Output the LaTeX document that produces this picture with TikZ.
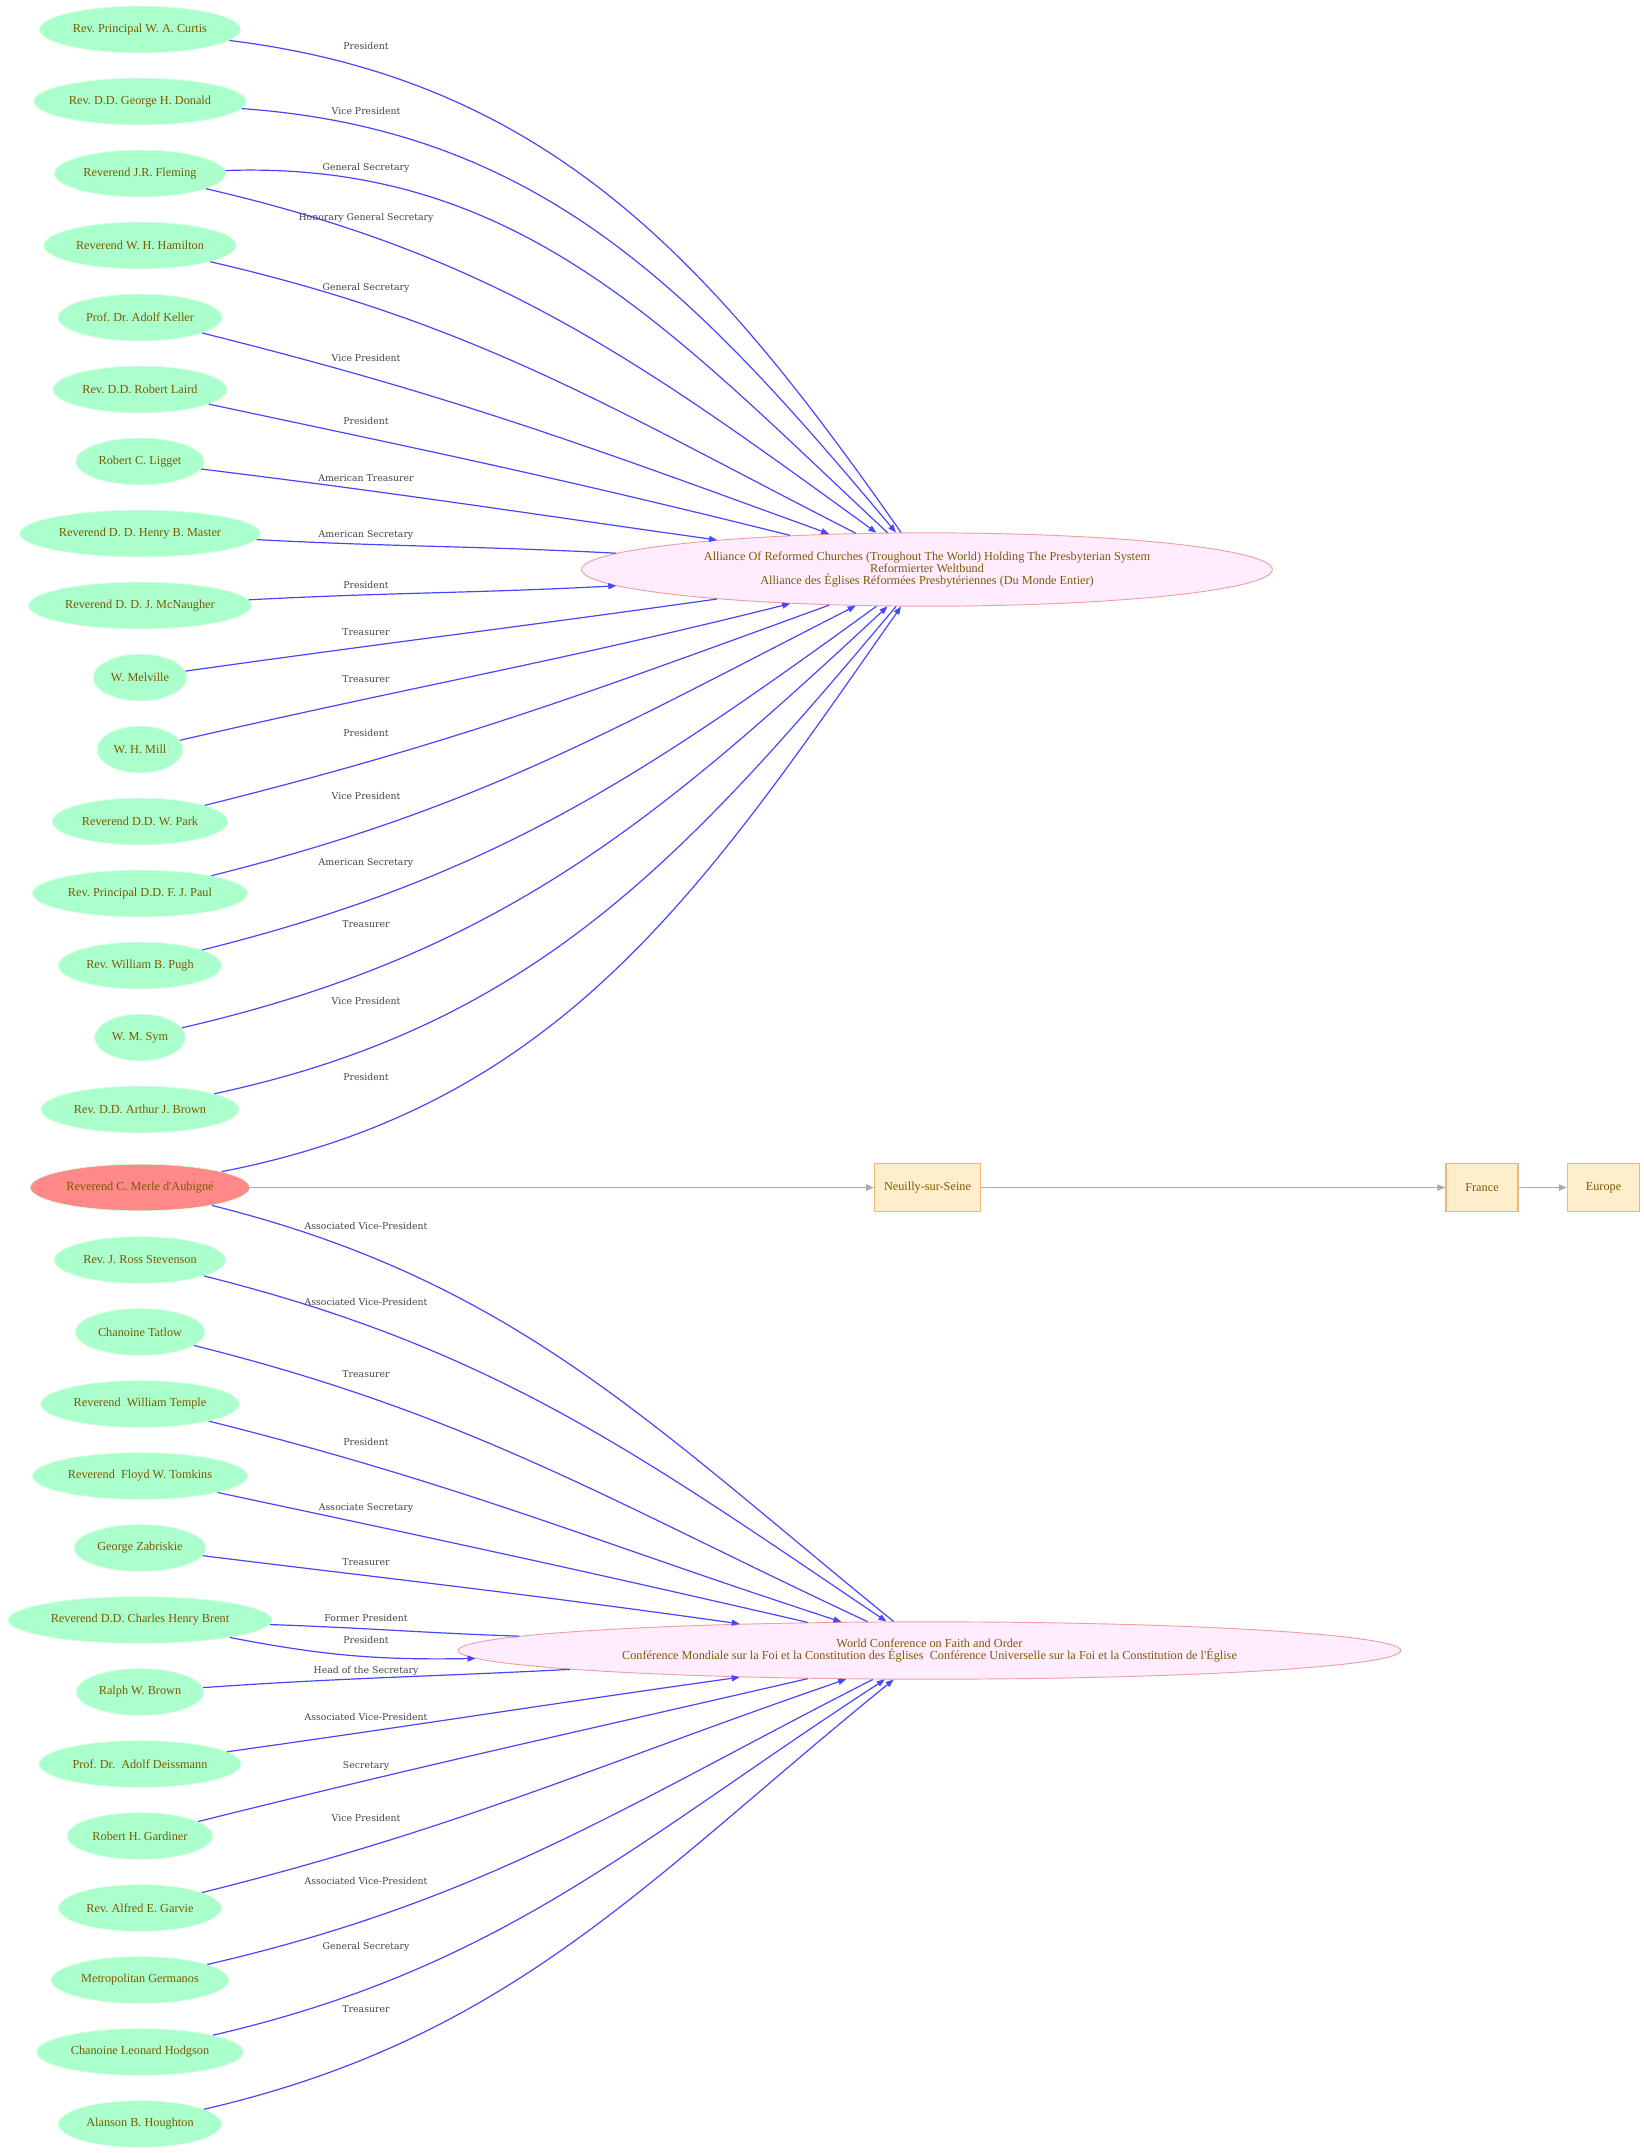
\documentclass[tikz,border=0pt]{standalone}
\usepackage{fontspec}
\setmainfont{Liberation Serif}
\newfontfamily\rolefont{DejaVu Serif}
\usetikzlibrary{positioning}
\usetikzlibrary{shapes.geometric}
\usetikzlibrary{arrows.meta}
\frenchspacing
\definecolor{personfill}{RGB}{170,255,204}
\definecolor{personrim}{RGB}{214,255,222}
\definecolor{founderfill}{RGB}{255,136,136}
\definecolor{nametext}{RGB}{124,90,0}
\definecolor{orgfill}{RGB}{255,236,255}
\definecolor{orgrim}{RGB}{238,160,160}
\definecolor{boxfill}{RGB}{255,238,204}
\definecolor{boxrim}{RGB}{232,186,120}
\definecolor{roleblue}{RGB}{70,70,255}
\definecolor{placegray}{RGB}{170,170,170}
\definecolor{rolegray}{RGB}{68,68,68}
\tikzset{
    person/.style = {ellipse,fill=personfill,draw=personrim,line width=0.6pt,text=nametext,
        inner xsep=3pt,minimum height=35pt,font=\fontsize{9.2}{11}\selectfont},
    founder/.style = {person,fill=founderfill},
    org/.style = {ellipse,fill=orgfill,draw=orgrim,line width=0.7pt,text=nametext,inner sep=0pt,
        align=center,font=\fontsize{9.2}{9.3}\selectfont},
    placebox/.style = {rectangle,fill=boxfill,draw=boxrim,line width=0.8pt,text=nametext,
        minimum width=54pt,minimum height=36.5pt,inner xsep=7pt,font=\fontsize{9.2}{11}\selectfont},
    role/.style = {draw=roleblue,line width=0.9pt,-{Triangle[length=6pt,width=4.5pt]}},
    located/.style = {draw=placegray,line width=1.4pt,-{Triangle[length=6pt,width=4.5pt]}},
    rolelabel/.style = {text=rolegray,inner sep=0pt,text height=5pt,text depth=1.5pt,
        font=\rolefont\fontsize{7}{8}\selectfont}}
\begin{document}
\begin{tikzpicture}[x=0.75pt,y=0.75pt]
        \useasboundingbox (0,0) rectangle (1644,-2153);
        \path (140,-29.5) node[person] (curtis) {Rev. Principal W. A. Curtis}
        ++ (0,-72) node[person] (donald) {Rev. D.D. George H. Donald}
        ++ (0,-72) node[person] (fleming) {Reverend J.R. Fleming}
        ++ (0,-72) node[person] (hamilton) {Reverend W. H. Hamilton}
        ++ (0,-72) node[person] (keller) {Prof. Dr. Adolf Keller}
        ++ (0,-72) node[person] (laird) {Rev. D.D. Robert Laird}
        ++ (0,-72) node[person] (ligget) {Robert C. Ligget}
        ++ (0,-72) node[person] (master) {Reverend D. D. Henry B. Master}
        ++ (0,-72) node[person] (mcnaugher) {Reverend D. D. J. McNaugher}
        ++ (0,-72) node[person] (melville) {W. Melville}
        ++ (0,-72) node[person] (mill) {W. H. Mill}
        ++ (0,-72) node[person] (park) {Reverend D.D. W. Park}
        ++ (0,-72) node[person] (paul) {Rev. Principal D.D. F. J. Paul}
        ++ (0,-72) node[person] (pugh) {Rev. William B. Pugh}
        ++ (0,-72) node[person] (sym) {W. M. Sym}
        ++ (0,-72) node[person] (brownaj) {Rev. D.D. Arthur J. Brown}
        ++ (0,-78) node[founder] (aubigne) {Reverend C. Merle d\textquotesingle Aubigné}
        ++ (0,-72.5) node[person] (stevenson) {Rev. J. Ross Stevenson}
        ++ (0,-72) node[person] (tatlow) {Chanoine Tatlow}
        ++ (0,-72) node[person] (temple) {Reverend\ \ William Temple}
        ++ (0,-72) node[person] (tomkins) {Reverend\ \ Floyd W. Tomkins}
        ++ (0,-72) node[person] (zabriskie) {George Zabriskie}
        ++ (0,-72) node[person] (brent) {Reverend D.D. Charles Henry Brent}
        ++ (0,-72) node[person] (brownrw) {Ralph W. Brown}
        ++ (0,-72) node[person] (deissmann) {Prof. Dr.\ \ Adolf Deissmann}
        ++ (0,-72) node[person] (gardiner) {Robert H. Gardiner}
        ++ (0,-72) node[person] (garvie) {Rev. Alfred E. Garvie}
        ++ (0,-72) node[person] (germanos) {Metropolitan Germanos}
        ++ (0,-72) node[person] (hodgson) {Chanoine Leonard Hodgson}
        ++ (0,-72) node[person] (houghton) {Alanson B. Houghton};
        \path (927,-569.5) node[org,minimum width=518pt,minimum height=55pt] (alliance)
            {Alliance Of Reformed Churches (Troughout The World) Holding The Presbyterian System\\
             Reformierter Weltbund\\
             Alliance des Églises Réformées Presbytériennes (Du Monde Entier)};
        \path (929.5,-1650.5) node[org,minimum width=707pt,minimum height=43pt] (conference)
            {World Conference on Faith and Order\\
             Conférence Mondiale sur la Foi et la Constitution des Églises\ \ Conférence Universelle sur la Foi et la Constitution de l\textquotesingle Église};
        \path (927.5,-1187.5) node[placebox] (neuilly) {Neuilly-sur-Seine}
        (1482,-1187.5) node[placebox] (france) {France}
        (1603.5,-1187.5) node[placebox] (europe) {Europe};
        % into the alliance
        \draw[role] (curtis) to[out=-7,in=125] (alliance) (donald) to[out=-4,in=130] (alliance);
        \draw[role] (fleming) to[out=2,in=137] (alliance) (fleming) to[out=-13,in=144] (alliance);
        \draw[role] (hamilton) to[out=-13,in=153] (alliance) (keller) to[out=-14,in=160] (alliance);
        \draw[role] (laird) to[out=-12,in=166] (alliance) (ligget) to[out=-7,in=172] (alliance);
        \draw[role] (master) to[out=-3,in=177] (alliance) (mcnaugher) to[out=3,in=-177] (alliance);
        \draw[role] (melville) to[out=8,in=-172] (alliance) (mill) to[out=13,in=-166] (alliance);
        \draw[role] (park) to[out=14,in=-160] (alliance) (paul) to[out=14,in=-153] (alliance);
        \draw[role] (pugh) to[out=14,in=-144] (alliance) (sym) to[out=13,in=-137] (alliance);
        \draw[role] (brownaj) to[out=12,in=-130] (alliance) (aubigne) to[out=11,in=-125] (alliance);
        % into the conference
        \draw[role] (aubigne) to[out=-14,in=141] (conference) (stevenson) to[out=-14,in=146] (conference);
        \draw[role] (tatlow) to[out=-14,in=155] (conference) (temple) to[out=-14,in=162] (conference);
        \draw[role] (tomkins) to[out=-12,in=167] (conference) (zabriskie) to[out=-7,in=172] (conference);
        \draw[role] (brent) to[out=-2,in=178] (conference) (brent) to[out=-11,in=181] (conference);
        \draw[role] (brownrw) to[out=4,in=-177] (conference) (deissmann) to[out=8,in=-172] (conference);
        \draw[role] (gardiner) to[out=14,in=-167] (conference) (garvie) to[out=14,in=-161] (conference);
        \draw[role] (germanos) to[out=13,in=-153] (conference) (hodgson) to[out=13,in=-147] (conference);
        \draw[role] (houghton) to[out=13,in=-141] (conference);
        % places
        \draw[located] (aubigne) -- (neuilly);
        \draw[located] (neuilly) -- (france);
        \draw[located] (france) -- (europe);
        % roles
        \path (366,-47) node[rolelabel] (rcurtis) {President}
        (366,-112) node[rolelabel] (rdonald) {Vice President}
        (366,-168) node[rolelabel] (rfleming) {General Secretary}
        (366,-218) node[rolelabel] (rflemingh) {Honorary General Secretary}
        (366,-288) node[rolelabel] (rhamilton) {General Secretary}
        (366,-359) node[rolelabel] (rkeller) {Vice President}
        (366,-422) node[rolelabel] (rlaird) {President}
        (366,-479) node[rolelabel] (rligget) {American Treasurer}
        (366,-535) node[rolelabel] (rmaster) {American Secretary}
        (366,-586) node[rolelabel] (rmcnaugher) {President}
        (366,-633) node[rolelabel] (rmelville) {Treasurer}
        (366,-680) node[rolelabel] (rmill) {Treasurer}
        (366,-734) node[rolelabel] (rpark) {President}
        (366,-797) node[rolelabel] (rpaul) {Vice President}
        (366,-863) node[rolelabel] (rpugh) {American Secretary}
        (366,-925) node[rolelabel] (rsym) {Treasurer}
        (366,-1002) node[rolelabel] (rbrownaj) {Vice President}
        (366,-1078) node[rolelabel] (raubigne) {President};
        \path (366,-1227) node[rolelabel] (raubignec) {Associated Vice-President}
        (366,-1303) node[rolelabel] (rstevenson) {Associated Vice-President}
        (366,-1375) node[rolelabel] (rtatlow) {Treasurer}
        (366,-1443) node[rolelabel] (rtemple) {President}
        (366,-1508) node[rolelabel] (rtomkins) {Associate Secretary}
        (366,-1563) node[rolelabel] (rzabriskie) {Treasurer}
        (366,-1619) node[rolelabel] (rbrentf) {Former President}
        (366,-1641) node[rolelabel] (rbrent) {President}
        (366,-1671) node[rolelabel] (rbrownrw) {Head of the Secretary}
        (366,-1718) node[rolelabel] (rdeissmann) {Associated Vice-President}
        (366,-1766) node[rolelabel] (rgardiner) {Secretary}
        (366,-1819) node[rolelabel] (rgarvie) {Vice President}
        (366,-1882) node[rolelabel] (rgermanos) {Associated Vice-President}
        (366,-1947) node[rolelabel] (rhodgson) {General Secretary}
        (366,-2010) node[rolelabel] (rhoughton) {Treasurer};
    \end{tikzpicture}
\end{document}
